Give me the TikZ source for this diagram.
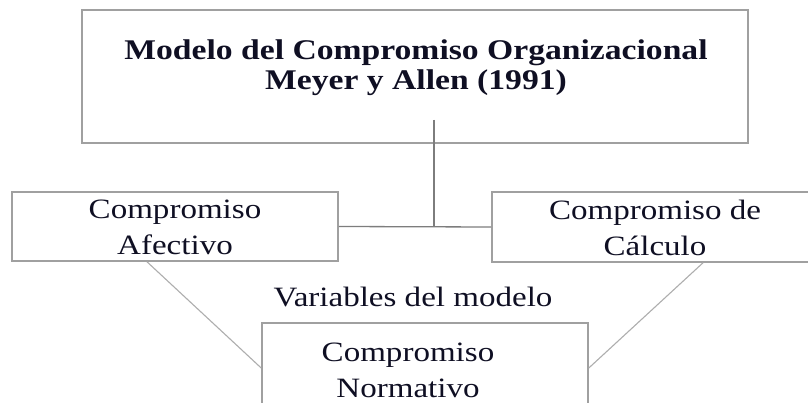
\documentclass[tikz,border=0pt]{standalone}
\usepackage{fontspec}
\setmainfont{Liberation Serif}[FakeStretch=1.18]
\usetikzlibrary{positioning,calc}
\definecolor{borde}{RGB}{160,160,160}
\definecolor{linea}{RGB}{125,125,125}
\definecolor{tinta}{RGB}{15,15,35}
\tikzset{
  caja/.style={draw=borde,line width=1.6pt,minimum width=326pt,minimum height=69pt,inner sep=0pt},
  texto/.style={text=tinta,align=center,font=\fontsize{28}{36}\selectfont},
  titulo/.style={text=tinta,align=center,font=\bfseries\fontsize{28.5}{30}\selectfont},
  rama/.style={draw=linea,line width=1.3pt},
  diag/.style={draw=borde!85,line width=1.1pt},
}

\begin{document}
\begin{tikzpicture}[x=1pt,y=-1pt]
\clip (0,0) rectangle (808,403);
\fill[white] (0,0) rectangle (808,403);

% modelo
\node[caja,minimum width=666pt,minimum height=133pt] (modelo) at (415,76.5) {};
\node[titulo] (modtxt) at (416,68)
  {Modelo del Compromiso Organizacional\\Meyer y Allen (1991)};

% variables
\node[caja,texto,text height=57pt] (afect) at (175,226.5) {Compromiso\\Afectivo};
\node[caja,texto,text height=57pt,minimum height=70pt] (calc) at (655,227) {Compromiso de\\Cálculo};
\node[caja,minimum height=90pt] (norm) at (425,368) {};
\node[texto] (normtxt) at (408,370) {Compromiso\\Normativo};
\node[texto] (vars) at (413,297) {Variables del modelo};

% ramas
\coordinate (raiz) at (434,120);
\coordinate (union) at (434,227);
\draw[rama] (raiz) -- (union);
\draw[rama] (afect.east) -- (calc.west);
\draw[diag] ([xshift=-28pt]afect.south) -- (norm.west);
\draw[diag] ([xshift=48pt]calc.south) -- (norm.east);
\end{tikzpicture}
\end{document}
